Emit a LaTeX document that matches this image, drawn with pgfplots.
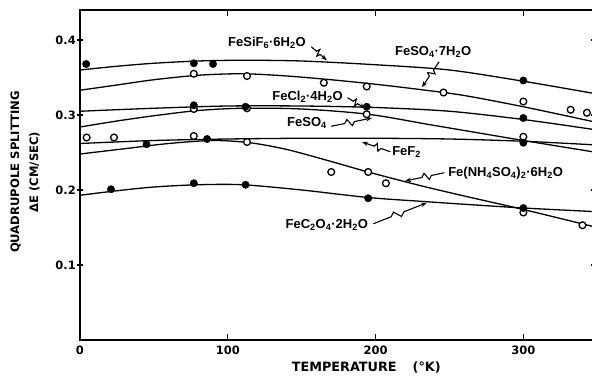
\documentclass[border=0pt]{standalone}
\usepackage{pgfplots}
\pgfplotsset{compat=1.18}
\usepackage{fontspec}
\setmainfont{Liberation Sans}
\newfontfamily\dvb{DejaVu Sans}
\usetikzlibrary{arrows.meta,calc}
\newcommand\squig[2]{\draw[line width=1.1pt,-{Stealth[length=6pt,width=4.5pt]}] (#1) -- ($(#1)!0.33!(#2)$) -- ($(#1)!0.40!(#2)!3.5pt!90:(#2)$) -- ($(#1)!0.50!(#2)!3.5pt!-90:(#2)$) -- ($(#1)!0.57!(#2)$) -- (#2);}
\newcommand\lab{\fontsize{13}{15}\selectfont\bfseries}
\begin{document}
\begin{tikzpicture}
\useasboundingbox (-80pt,-36pt) rectangle (512pt,340pt);
\begin{axis}[
  scale only axis, width=514pt, height=330pt,
  xmin=0, xmax=347.8, ymin=0, ymax=0.44,
  axis line style={line width=2pt},
  xtick={0,100,200,300},
  xticklabels={\textbf{0},\textbf{100},\textbf{200},\textbf{300}},
  ytick={0.1,0.2,0.3,0.4},
  yticklabels={\textbf{0.1},\textbf{0.2},\textbf{0.3},\textbf{0.4}},
  xtick align=inside, ytick align=center,
  major tick length=6pt,
  tick style={black, line width=1.3pt},
  tick label style={font=\dvb\fontsize{11.5}{13}\selectfont},
  yticklabel style={inner xsep=1pt},
  xticklabel style={yshift=-2pt},
  xlabel={\textbf{TEMPERATURE\hspace{16pt}(°K)}},
  xlabel style={font=\dvb\fontsize{12.8}{14}\selectfont, at={(axis description cs:0.557,0)}, anchor=center, yshift=-27pt},
  ylabel={\textbf{QUADRUPOLE SPLITTING}\\\textbf{ΔE (CM/SEC)}},
  ylabel style={font=\dvb\fontsize{11.6}{19}\selectfont, align=center, at={(axis description cs:0,0.509)}, anchor=center, yshift=55pt},
]
% curves
\addplot[black, line width=1.3pt, smooth] coordinates {(0,0.360) (25,0.365) (50,0.369) (80,0.372) (110,0.373) (150,0.372) (200,0.367) (250,0.360) (300,0.345) (350,0.328)};
\addplot[black, line width=1.3pt, smooth] coordinates {(0,0.333) (25,0.340) (50,0.347) (80,0.353) (110,0.355) (140,0.352) (170,0.347) (200,0.341) (230,0.334) (260,0.326) (300,0.311) (350,0.290)};
\addplot[black, line width=1.3pt, smooth] coordinates {(0,0.305) (50,0.309) (100,0.312) (150,0.312) (200,0.310) (250,0.305) (300,0.294) (350,0.280)};
\addplot[black, line width=1.3pt, smooth] coordinates {(0,0.284) (25,0.292) (50,0.299) (80,0.306) (110,0.309) (150,0.308) (195,0.301) (237,0.287) (270,0.276) (300,0.266) (350,0.250)};
\addplot[black, line width=1.3pt, smooth] coordinates {(0,0.262) (50,0.266) (100,0.268) (150,0.269) (200,0.269) (250,0.268) (300,0.265) (350,0.260)};
\addplot[black, line width=1.3pt, smooth] coordinates {(0,0.248) (30,0.255) (60,0.262) (90,0.266) (115,0.263) (140,0.254) (170,0.238) (195,0.224) (230,0.206) (260,0.192) (300,0.174) (350,0.150)};
\addplot[black, line width=1.3pt, smooth] coordinates {(0,0.193) (25,0.199) (50,0.204) (80,0.207) (110,0.207) (150,0.200) (195,0.190) (230,0.185) (260,0.181) (300,0.176) (350,0.171)};
% open points
\addplot[only marks, black, mark=*, mark size=3.4pt, mark options={fill=white, line width=1.3pt}] coordinates {
 (77,0.355) (113,0.352) (165,0.343) (194,0.338) (246,0.330) (300,0.318) (332,0.307) (343,0.303)
 (77,0.308) (113,0.309) (194,0.301) (300,0.271)
 (4.5,0.270) (23,0.270) (77,0.272) (113,0.264)
 (170,0.224) (195,0.224) (207,0.209) (300,0.170) (340,0.153)};
% filled points
\addplot[only marks, black, mark=*, mark size=3.7pt] coordinates {
 (4.2,0.368) (77,0.369) (90,0.368) (300,0.346)
 (77,0.313) (112,0.311) (194,0.311) (300,0.296)
 (300,0.263)
 (45,0.261) (86,0.268)
 (21,0.201) (77,0.209) (112,0.207) (195,0.189) (300,0.176)};
% labels
\node[font=\lab] at (126.5,0.396) {FeSiF\textsubscript{6}·6H\textsubscript{2}O};
\squig{156.5,0.391}{167,0.373}
\node[font=\lab] at (239,0.384) {FeSO\textsubscript{4}·7H\textsubscript{2}O};
\squig{243,0.371}{231.4,0.337}
\node[font=\lab] at (154,0.324) {FeCl\textsubscript{2}·4H\textsubscript{2}O};
\squig{181,0.323}{193,0.309}
\node[font=\lab] at (153.6,0.289) {FeSO\textsubscript{4}};
\squig{170,0.285}{197.6,0.296}
\node[font=\lab] at (221,0.251) {FeF\textsubscript{2}};
\squig{210,0.251}{190.8,0.264}
\node[font=\lab] at (288,0.223) {Fe(NH\textsubscript{4}SO\textsubscript{4})\textsubscript{2}·6H\textsubscript{2}O};
\squig{246.5,0.223}{220,0.212}
\node[font=\lab] at (167,0.153) {FeC\textsubscript{2}O\textsubscript{4}·2H\textsubscript{2}O};
\squig{198.5,0.155}{234.8,0.183}
\end{axis}
\end{tikzpicture}
\end{document}
